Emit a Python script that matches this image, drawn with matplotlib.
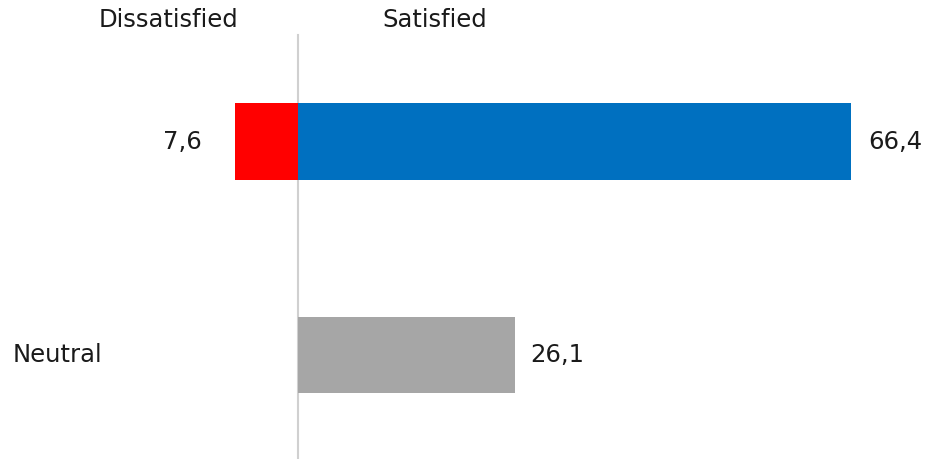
import matplotlib
matplotlib.use("Agg")
import matplotlib.pyplot as plt

# data
rows = ["", "Neutral"]
dissatisfied = [7.6, None]
satisfied = [66.4, None]
neutral = [None, 26.1]
col_titles = ["Dissatisfied", "Satisfied"]

RED = "#FF0000"
BLUE = "#0070C0"
GREY = "#A6A6A6"
TXT = "#1A1A1A"
FS = 17.5

def fmt(v):
    return f"{v:.1f}".replace(".", ",")

fig = plt.figure(figsize=(9.3, 4.59), dpi=100)
ax = fig.add_axes([0, 0, 1, 1])

ypos = list(range(len(rows)))
h = 0.36

# top row: dissatisfied (left, negative) and satisfied (right)
ax.barh(ypos[0], -dissatisfied[0], height=h, color=RED, edgecolor="none")
ax.barh(ypos[0], satisfied[0], height=h, color=BLUE, edgecolor="none")
ax.text(-dissatisfied[0] - 4, ypos[0], fmt(dissatisfied[0]), ha="right", va="center",
        fontsize=FS, color=TXT)
ax.text(satisfied[0] + 2, ypos[0], fmt(satisfied[0]), ha="left", va="center",
        fontsize=FS, color=TXT)

# neutral row
ax.barh(ypos[1], neutral[1], height=h, color=GREY, edgecolor="none")
ax.text(neutral[1] + 1.8, ypos[1], fmt(neutral[1]), ha="left", va="center",
        fontsize=FS, color=TXT)
ax.text(-34.3, ypos[1], rows[1], ha="left", va="center", fontsize=FS, color=TXT)

# centre line
ax.plot([0, 0], [-0.5, 1.6], color="#D0D0D0", lw=1.5, zorder=0)

# column titles
ax.text(-15.5, -0.57, col_titles[0], ha="center", va="center", fontsize=FS, color=TXT)
ax.text(16.4, -0.57, col_titles[1], ha="center", va="center", fontsize=FS, color=TXT)

ax.set_xlim(-35.77, 75.87)
ax.set_ylim(1.487, -0.663)
ax.axis("off")

fig.savefig("out.png", dpi=100)
